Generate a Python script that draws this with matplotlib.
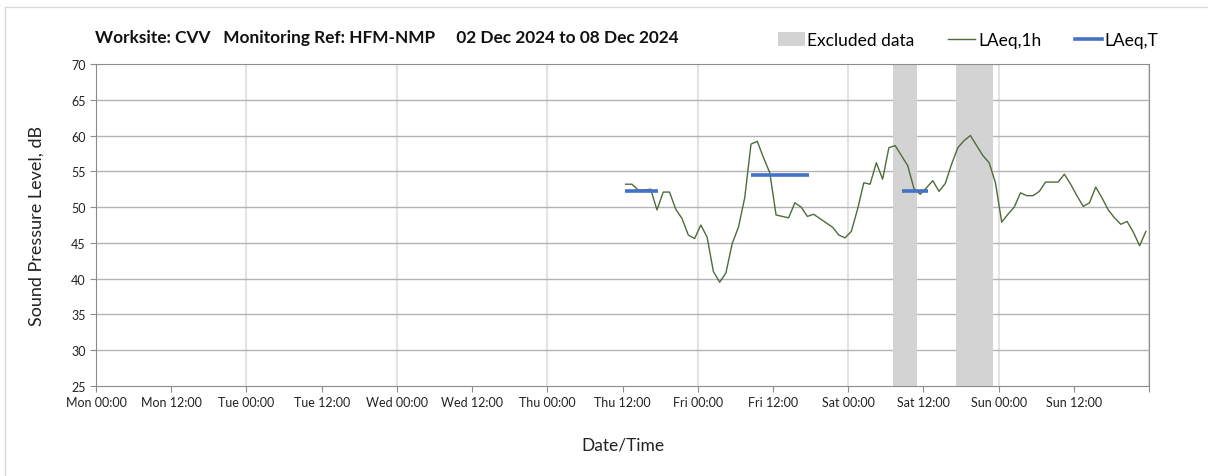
import numpy as np
import matplotlib.pyplot as plt
from matplotlib.patches import Patch
from matplotlib.lines import Line2D

plt.rcParams['font.family'] = ['Lato', 'DejaVu Sans']

# hourly LAeq,1h levels, hours counted from Mon 02 Dec 00:00 (plotted mid-hour)
first_hour = 84.5
laeq_1h = [53.2, 53.2, 52.4, 52.4, 52.5, 49.6, 52.1, 52.1, 49.7, 48.4,
           46.1, 45.6, 47.5, 45.8, 41.0, 39.5, 40.8, 44.9, 47.2, 51.3,
           58.8, 59.2, 56.9, 54.8, 48.9, 48.7, 48.5, 50.6, 50.0, 48.7,
           49.0, 48.4, 47.8, 47.2, 46.1, 45.7, 46.6, 49.7, 53.4, 53.2,
           56.2, 53.9, 58.3, 58.6, 57.2, 55.8, 52.6, 51.8, 52.7, 53.7,
           52.2, 53.3, 56.0, 58.3, 59.3, 60.0, 58.6, 57.2, 56.2, 53.4,
           47.9, 49.0, 50.0, 52.0, 51.6, 51.6, 52.2, 53.5, 53.5, 53.5,
           54.6, 53.2, 51.6, 50.1, 50.6, 52.8, 51.3, 49.6, 48.5, 47.6,
           48.0, 46.5, 44.6, 46.6]

# LAeq,T periods
laeq_t_start = [84.4, 104.5, 128.6]
laeq_t_end = [89.6, 113.7, 132.7]
laeq_t_level = [52.3, 54.5, 52.3]

# excluded data periods
excl_start = [127.2, 137.2]
excl_end = [131.0, 143.1]

tick_labels = ['Mon 00:00', 'Mon 12:00', 'Tue 00:00', 'Tue 12:00',
               'Wed 00:00', 'Wed 12:00', 'Thu 00:00', 'Thu 12:00',
               'Fri 00:00', 'Fri 12:00', 'Sat 00:00', 'Sat 12:00',
               'Sun 00:00', 'Sun 12:00', '']

hours = first_hour + np.arange(len(laeq_1h))

fig = plt.figure(figsize=(12.08, 4.77), dpi=100)
ax = fig.add_axes([96 / 1208, 1 - 387 / 477, (1149 - 96) / 1208, (387 - 65) / 477])

# background frame of the sheet
fig.add_artist(Line2D([5 / 1208, 5 / 1208], [0, 1 - 8 / 477], transform=fig.transFigure,
                      color='#D9D9D9', lw=1))
fig.add_artist(Line2D([5 / 1208, 1], [1 - 8 / 477, 1 - 8 / 477], transform=fig.transFigure,
                      color='#D9D9D9', lw=1))

for s, e in zip(excl_start, excl_end):
    ax.axvspan(s, e, color='#D3D3D3', lw=0, zorder=1)

ax.plot(hours, laeq_1h, color='#4F6B3A', lw=1, zorder=3)
for s, e, v in zip(laeq_t_start, laeq_t_end, laeq_t_level):
    ax.plot([s, e], [v, v], color='#4472C4', lw=2.6, solid_capstyle='butt', zorder=4)

ax.set_xlim(0, 168)
ax.set_ylim(25, 70)
ax.set_xticks(np.arange(0, 169, 12))
ax.set_xticklabels(tick_labels)
ax.set_yticks(np.arange(25, 71, 5))

for d in range(0, 169, 24):
    ax.axvline(d, color='#E3E3E3', lw=1.5, zorder=0)
for v in range(30, 70, 5):
    ax.axhline(v, color='#B4B4B4', lw=1, zorder=0)

for sp in ax.spines.values():
    sp.set_color('#8C8C8C')
ax.tick_params(axis='both', colors='#8C8C8C', length=4, labelsize=9, labelcolor='#222222')

ax.set_ylabel('Sound Pressure Level, dB', fontsize=13, labelpad=19, color='#222222')
ax.set_xlabel('Date/Time', fontsize=12.5, labelpad=20, color='#222222')

fig.text(95 / 1208, 1 - 38 / 477,
         'Worksite: CVV   Monitoring Ref: HFM-NMP     02 Dec 2024 to 08 Dec 2024',
         fontsize=12.4, fontweight='bold', va='center', ha='left', color='#111111')

handles = [Patch(facecolor='#D3D3D3', edgecolor='none', label='Excluded data'),
           Line2D([], [], color='#4F6B3A', lw=1, label='LAeq,1h'),
           Line2D([], [], color='#4472C4', lw=2.6, label='LAeq,T')]
fig.legend(handles=handles, loc='center right', bbox_to_anchor=(1174 / 1208, 1 - 41 / 477),
           ncol=3, frameon=False, fontsize=12.5, handlelength=1.55, handletextpad=0.15,
           columnspacing=1.95, handleheight=0.8)

fig.savefig('out.png', dpi=100)
